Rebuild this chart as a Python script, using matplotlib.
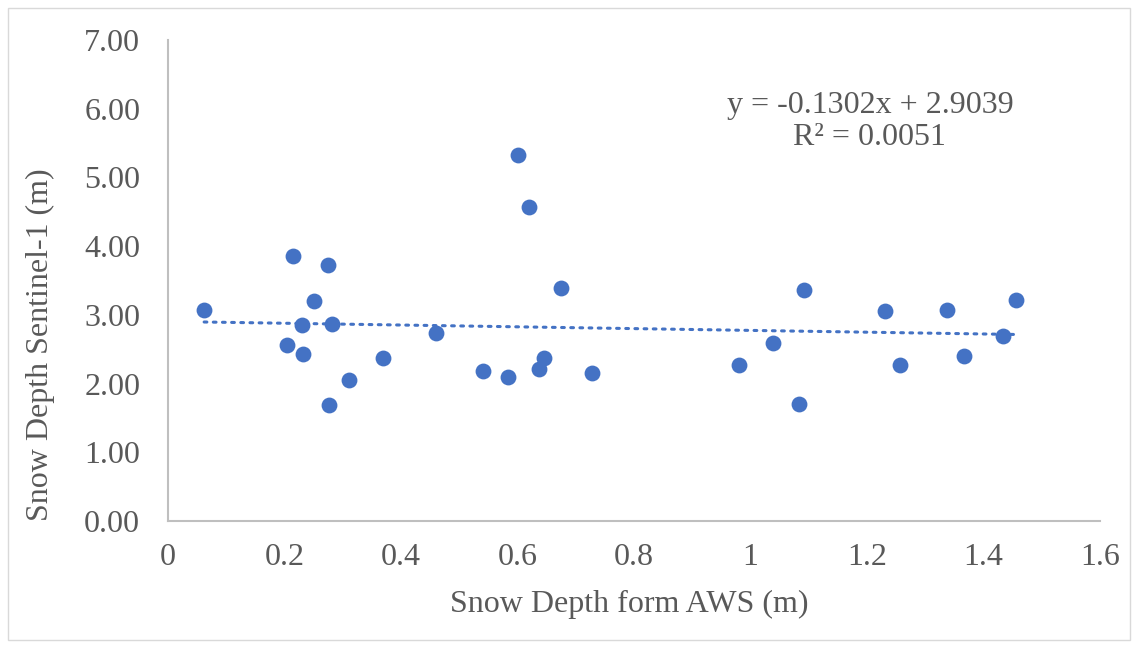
import matplotlib.pyplot as plt
from matplotlib.patches import Rectangle
from matplotlib.ticker import FuncFormatter

plt.rcParams['font.family'] = ['Liberation Serif', 'DejaVu Serif']

# AWS vs Sentinel-1 snow depth (m)
aws_depth = [0.062, 0.204, 0.215, 0.230, 0.232, 0.251, 0.275, 0.276, 0.2815, 0.311,
             0.369, 0.460, 0.541, 0.584, 0.601, 0.620, 0.637, 0.645, 0.675, 0.728,
             0.980, 1.039, 1.083, 1.092, 1.231, 1.257, 1.337, 1.367, 1.433, 1.456]
s1_depth = [3.07, 2.56, 3.86, 2.85, 2.43, 3.20, 3.73, 1.69, 2.87, 2.05,
            2.37, 2.74, 2.18, 2.10, 5.33, 4.57, 2.21, 2.37, 3.39, 2.15,
            2.27, 2.59, 1.70, 3.36, 3.06, 2.27, 3.07, 2.40, 2.69, 3.22]

# linear trend as reported on the chart
slope = -0.1302
intercept = 2.9039
r_squared = 0.0051

x_ticks = [0, 0.2, 0.4, 0.6, 0.8, 1.0, 1.2, 1.4, 1.6]
y_ticks = [0, 1, 2, 3, 4, 5, 6, 7]

grey = '#595959'
blue = '#4472C4'
fs = 23

fig = plt.figure(figsize=(11.36, 6.48), dpi=100)
fig.patches.append(Rectangle((0.007, 0.012), 0.988, 0.976, transform=fig.transFigure,
                             fill=False, edgecolor='#d9d9d9', linewidth=1))
ax = fig.add_axes([0.1479, 0.196, 0.8204, 0.7423])

ax.scatter(aws_depth, s1_depth, s=130, color=blue, zorder=3, linewidths=0)

xs = [min(aws_depth), max(aws_depth)]
ax.plot(xs, [slope * x + intercept for x in xs], color=blue, linewidth=2.2,
        linestyle=(0, (0.9, 2.1)), dash_capstyle='round', zorder=2)

ax.set_xlim(0, 1.6)
ax.set_ylim(0, 7)
ax.set_xticks(x_ticks)
ax.set_yticks(y_ticks)
ax.xaxis.set_major_formatter(FuncFormatter(lambda v, p: f'{v:g}'))
ax.yaxis.set_major_formatter(FuncFormatter(lambda v, p: f'{v:.2f}'))
ax.tick_params(axis='both', length=0, labelsize=fs, labelcolor=grey)
ax.tick_params(axis='y', pad=20)
ax.tick_params(axis='x', pad=16)

for side in ['top', 'right']:
    ax.spines[side].set_visible(False)
for side in ['left', 'bottom']:
    ax.spines[side].set_color('#bfbfbf')
    ax.spines[side].set_linewidth(1.5)

fig.text(629 / 1136, 1 - 604 / 648, 'Snow Depth form AWS (m)', fontsize=fs,
         color=grey, ha='center', va='center')
fig.text(40 / 1136, 1 - 345 / 648, 'Snow Depth Sentinel-1 (m)', fontsize=fs,
         color=grey, ha='center', va='center', rotation=90)

eq = f'y = {slope:.4f}x + {intercept:.4f}\nR² = {r_squared:.4f}'
ax.text(1.205, 5.81, eq, fontsize=fs, color=grey, ha='center', va='center',
        linespacing=1.15)

fig.savefig('out.png', dpi=100)
